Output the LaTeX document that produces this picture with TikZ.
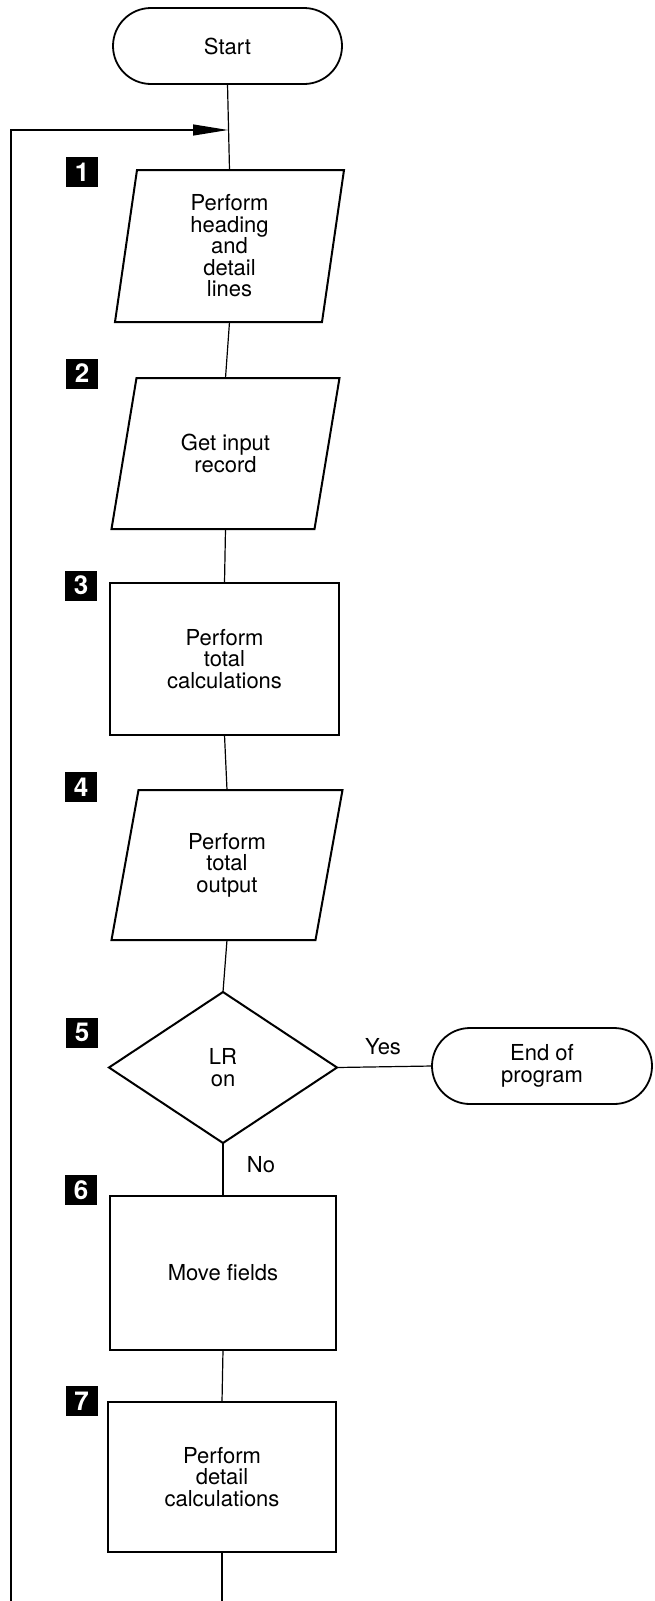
\documentclass[tikz,border=0pt]{standalone}
\usepackage{fontspec}
\setmainfont{TeX Gyre Heros}
\usetikzlibrary{arrows.meta}
\begin{document}
\begin{tikzpicture}[x=1pt,y=-1pt,
  txt/.style={inner sep=0pt, outer sep=0pt, align=center,
    font=\fontsize{22}{21.5}\selectfont},
  terminal/.style={txt, draw, line width=1.8pt, rounded corners=38pt},
  procbox/.style={txt, draw, line width=2pt},
  outline/.style={line width=2pt, line join=miter},
  link/.style={line width=1.2pt},
  badge/.style={fill=black, text=white, minimum width=32pt, minimum height=30pt,
    inner sep=0pt, font=\fontsize{26}{26}\bfseries\selectfont}]
\useasboundingbox (0,0) rectangle (654,1601);

% flow nodes
\node[terminal, minimum width=229pt, minimum height=76pt] (start) at (227.5,46) {Start};
\node[txt, minimum width=207pt, minimum height=152pt] (p1) at (229.5,246) {Perform\\heading\\and\\detail\\lines};
\node[txt, minimum width=203pt, minimum height=151pt] (p2) at (225.5,453.5) {Get input\\record};
\node[procbox, minimum width=229pt, minimum height=152pt] (b3) at (224.5,659) {Perform\\total\\calculations};
\node[txt, minimum width=204pt, minimum height=150pt] (p4) at (227,865) {Perform\\total\\output};
\node[txt, minimum width=228pt, minimum height=151pt] (d5) at (223,1067.5) {LR\\on};
\node[terminal, minimum width=220pt, minimum height=76pt] (end) at (542,1066) {End of\\program};
\node[procbox, minimum width=226pt, minimum height=154pt] (b6) at (223,1273) {Move fields};
\node[procbox, minimum width=228pt, minimum height=150pt] (b7) at (222,1477) {Perform\\detail\\calculations};

% parallelogram outlines
\draw[outline] ([xshift=11pt]p1.north west) -- ([xshift=11pt]p1.north east)
  -- ([xshift=-11pt]p1.south east) -- ([xshift=-11pt]p1.south west) -- cycle;
\draw[outline] ([xshift=12.5pt]p2.north west) -- ([xshift=12.5pt]p2.north east)
  -- ([xshift=-12.5pt]p2.south east) -- ([xshift=-12.5pt]p2.south west) -- cycle;
\draw[outline] ([xshift=13.5pt]p4.north west) -- ([xshift=13.5pt]p4.north east)
  -- ([xshift=-13.5pt]p4.south east) -- ([xshift=-13.5pt]p4.south west) -- cycle;
% decision outline
\draw[outline] (d5.north) -- (d5.east) -- (d5.south) -- (d5.west) -- cycle;

% step numbers
\node[badge] (n1) at (82,172) {1};
\node[badge] (n2) at (82,373.5) {2};
\node[badge] (n3) at (81,585.5) {3};
\node[badge] (n4) at (81,787) {4};
\node[badge] (n5) at (82,1032.5) {5};
\node[badge] (n6) at (81,1190) {6};
\node[badge] (n7) at (81.5,1401) {7};

% branch labels
\node[txt] (yes) at (383,1047) {Yes};
\node[txt] (no) at (261,1165) {No};

% connectors
\coordinate (merge) at (228,130);
\coordinate (loopfoot) at (11,1601);
\coordinate (flowfoot) at (222,1601);
\draw[link] (start.south) -- (p1.north);
\draw[link] (p1.south) -- (p2.north);
\draw[link] (p2.south) -- (b3.north);
\draw[link] (b3.south) -- (p4.north);
\draw[link] (p4.south) -- (d5.north);
\draw[link] (d5.east) -- (end.west);
\draw[link] (d5.south) -- (b6.north);
\draw[link] (b6.south) -- (b7.north);
\draw[link] (b7.south) -- (flowfoot);
\draw[link, -{Triangle[length=35pt,width=11pt]}] (loopfoot) |- (merge);
\end{tikzpicture}
\end{document}
